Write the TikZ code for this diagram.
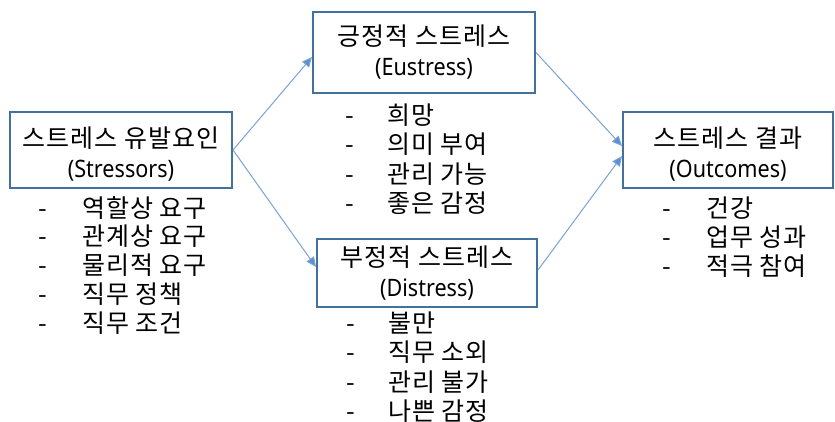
\documentclass[tikz,border=0pt]{standalone}
\usepackage{fontspec}
\usepackage{graphicx}
\setmainfont{Noto Sans CJK KR}[LetterSpace=4]
\newfontfamily\latfont{Noto Sans}
\usetikzlibrary{arrows.meta}
\definecolor{boxc}{HTML}{41719C}
\definecolor{arrc}{HTML}{7AA3D6}
\definecolor{headc}{HTML}{5B8FCF}
\newcommand{\lat}[1]{\scalebox{0.9}[1]{\latfont\fontsize{24}{30}\selectfont #1}}
\newcommand{\topstr}{\rule{0pt}{28pt}}
\begin{document}
\begin{tikzpicture}[x=1pt,y=-1pt,
  box/.style={draw=boxc, line width=2pt, fill=white, align=center, inner sep=0pt,
    font=\fontsize{25}{30}\selectfont},
  conn/.style={draw=arrc, line width=1pt, -{Triangle[length=10pt,width=9pt,fill=headc]}},
  listA/.style={anchor=north west, inner sep=0pt, font=\fontsize{25}{27}\selectfont},
  listB/.style={anchor=north west, inner sep=0pt, font=\fontsize{25}{28}\selectfont}]
\useasboundingbox[fill=white] (0,0) rectangle (835,422);

\node[box, minimum width=222pt, minimum height=76pt] (str) at (121,150) {\topstr 스트레스 유발요인\\\lat{(Stressors)}};
\node[box, minimum width=222pt, minimum height=81pt] (eu) at (424,52.5) {긍정적 스트레스\\\lat{(Eustress)}};
\node[box, minimum width=220pt, minimum height=68pt] (dis) at (427,273) {부정적 스트레스\\\lat{(Distress)}};
\node[box, minimum width=210pt, minimum height=76pt] (out) at (728,150) {\topstr 스트레스 결과\\\lat{(Outcomes)}};

\node[listA] (strl) at (38,196) {\begin{tabular}{@{}p{44pt}@{}l@{}}
- & 역할상 요구\\ - & 관계상 요구\\ - & 물리적 요구\\ - & 직무 정책\\ - & 직무 조건\end{tabular}};
\node[listB] (eul) at (345,104) {\begin{tabular}{@{}p{42pt}@{}l@{}}
- & 희망\\ - & 의미 부여\\ - & 관리 가능\\ - & 좋은 감정\end{tabular}};
\node[listB] (disl) at (346,312) {\begin{tabular}{@{}p{42pt}@{}l@{}}
- & 불만\\ - & 직무 소외\\ - & 관리 불가\\ - & 나쁜 감정\end{tabular}};
\node[listA] (outl) at (662,197) {\begin{tabular}{@{}p{44pt}@{}l@{}}
- & 건강\\ - & 업무 성과\\ - & 적극 참여\end{tabular}};

\draw[conn] (str.east) -- ([yshift=-4.5pt]eu.west);
\draw[conn] (str.east) -- ([yshift=6pt]dis.west);
\draw[conn] (eu.east) -- ([yshift=4pt]out.west);
\draw[conn] ([yshift=3pt]dis.east) -- ([yshift=-6pt]out.west);
\end{tikzpicture}
\end{document}
